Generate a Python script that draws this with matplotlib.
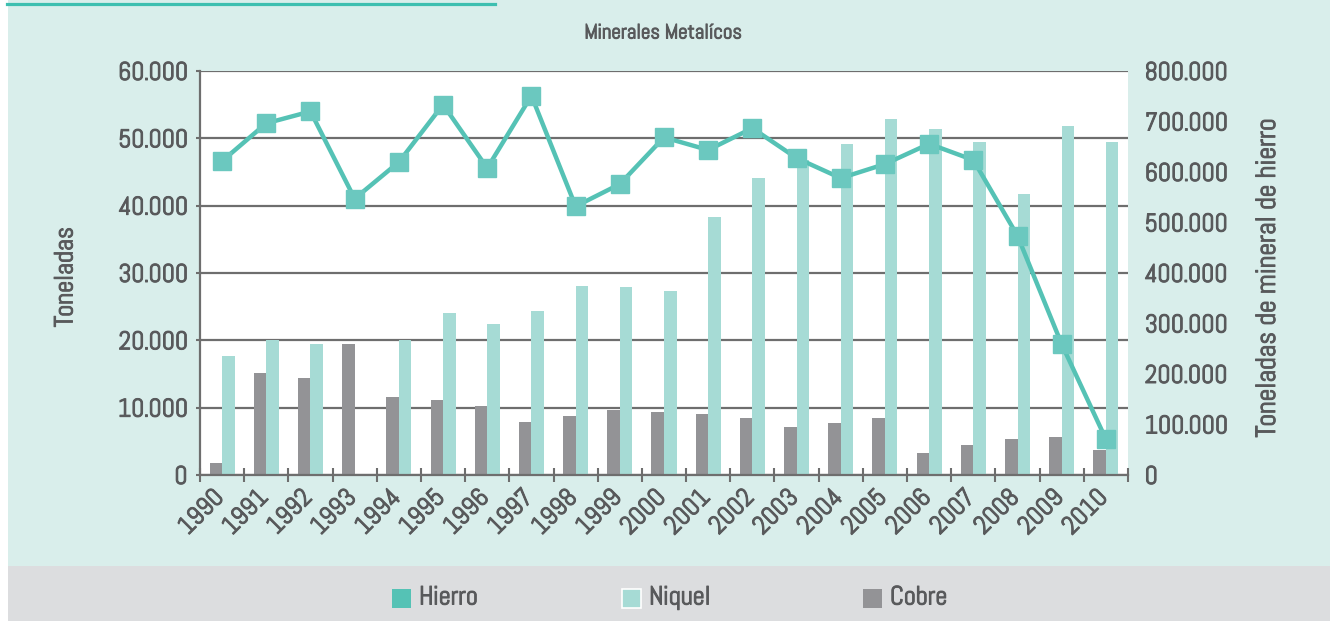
import matplotlib.pyplot as plt
import matplotlib.transforms as mtransforms
import matplotlib.patheffects as pe
from matplotlib.patches import Rectangle
from matplotlib.lines import Line2D
from matplotlib.ticker import FuncFormatter

# --- data ---
years = ["1990", "1991", "1992", "1993", "1994", "1995", "1996", "1997",
         "1998", "1999", "2000", "2001", "2002", "2003", "2004", "2005",
         "2006", "2007", "2008", "2009", "2010"]

cobre = [1800, 15100, 14400, 19500, 11600, 11100, 10200, 7800, 8700, 9600,
         9400, 9100, 8400, 7100, 7700, 8500, 3300, 4500, 5400, 5600, 3700]

niquel = [17700, 20000, 19500, 0, 20100, 24100, 22400, 24400, 28000, 27900,
          27400, 38300, 44100, 46800, 49100, 52900, 51400, 49400, 41700,
          51900, 49500]

hierro = [621700, 696500, 719900, 547200, 619700, 733500, 607700, 751000,
          532000, 576000, 668600, 643600, 686800, 627600, 587900, 615700,
          655800, 623700, 473600, 258900, 71000]

left_ticks = [0, 10000, 20000, 30000, 40000, 50000, 60000]
right_ticks = [0, 100000, 200000, 300000, 400000, 500000, 600000, 700000, 800000]

# colours
C_HIERRO = "#55c2b5"
C_HIERRO_MK = "#6bc8bf"
C_NIQUEL = "#a6dbd5"
C_COBRE = "#939396"
C_BG = "#d9eeeb"
C_BAND = "#dcdddf"
C_GRID = "#6e6e6e"
C_TEXT = "#58595b"

plt.rcParams['font.family'] = ['Abel', 'DejaVu Sans']
bold = [pe.withStroke(linewidth=0.7, foreground=C_TEXT)]

W, H = 1339, 621
fig = plt.figure(figsize=(W / 100, H / 100), dpi=100)


def fx(px):
    return px / W


def fy(py):
    return (H - py) / H


# backgrounds
fig.patches.append(Rectangle((fx(8), fy(566)), fx(1330) - fx(8), 566 / H,
                             transform=fig.transFigure, facecolor=C_BG,
                             edgecolor="none", zorder=-2))
fig.patches.append(Rectangle((fx(8), 0), fx(1330) - fx(8), 55 / H,
                             transform=fig.transFigure, facecolor=C_BAND,
                             edgecolor="none", zorder=-2))
fig.lines.append(Line2D([fx(7), fx(495)], [fy(3.5), fy(3.5)],
                        transform=fig.transFigure, color="#3dbfb0", lw=2.3))

ax = fig.add_axes([fx(200), fy(475), fx(1128) - fx(200), (475 - 71) / H])
ax.set_facecolor("white")

x = list(range(len(years)))
bw = 0.283
ax.bar([i - bw / 2 for i in x], cobre, width=bw, color=C_COBRE, zorder=2)
ax.bar([i + bw / 2 for i in x], niquel, width=bw, color=C_NIQUEL, zorder=2)

ax.set_xlim(-0.5, len(years) - 0.5)
ax.set_ylim(0, 60000)
ax.set_yticks(left_ticks)
fmt = FuncFormatter(lambda v, p: f"{int(v):,}".replace(",", "."))
ax.yaxis.set_major_formatter(fmt)
ax.yaxis.grid(True, color=C_GRID, lw=1.6)
ax.set_axisbelow(True)

for s in ["top", "right"]:
    ax.spines[s].set_visible(False)
for s in ["left", "bottom"]:
    ax.spines[s].set_color(C_GRID)
    ax.spines[s].set_linewidth(1.6)

ax.set_xticks(x)
ax.set_xticklabels(years, rotation=45, ha="right", va="top",
                   rotation_mode="anchor")
ax.set_xticks([i - 0.5 for i in range(len(years) + 1)], minor=True)
ax.tick_params(axis="x", which="major", length=0, pad=8, labelsize=18.5,
               labelcolor=C_TEXT)
ax.tick_params(axis="x", which="minor", length=9.5, width=1.5,
               direction="inout", color=C_GRID)
ax.tick_params(axis="y", length=3, width=1.5, color=C_GRID, pad=6,
               labelsize=18.5, labelcolor=C_TEXT)

# shift the slanted year labels so they end at the category centre
shift = mtransforms.ScaledTranslation(-10 / 100, 0, fig.dpi_scale_trans)
for lab in ax.get_xticklabels():
    lab.set_transform(lab.get_transform() + shift)
    lab.set_path_effects(bold)
for lab in ax.get_yticklabels():
    lab.set_path_effects(bold)

ax2 = ax.twinx()
ax2.plot(x, hierro, color=C_HIERRO, lw=3.2, marker="s", markersize=12.5,
         markerfacecolor=C_HIERRO_MK, markeredgecolor=C_HIERRO_MK, zorder=3)
ax2.set_ylim(0, 800000)
ax2.set_yticks(right_ticks)
ax2.yaxis.set_major_formatter(fmt)
ax2.tick_params(axis="y", length=0, pad=12, labelsize=18.5, labelcolor=C_TEXT)
for lab in ax2.get_yticklabels():
    lab.set_path_effects(bold)
for s in ax2.spines.values():
    s.set_visible(False)

# titles and axis labels
fig.text(fx(663), fy(33), "Minerales Metalícos", ha="center", va="center",
         fontsize=15, color=C_TEXT, path_effects=bold)
fig.text(fx(66), fy(277), "Toneladas", rotation=90, ha="center", va="center",
         fontsize=19, color=C_TEXT, path_effects=bold)
fig.text(fx(1268), fy(279), "Toneladas de mineral de hierro", rotation=90,
         ha="center", va="center", fontsize=20, color=C_TEXT,
         path_effects=bold)

# legend in the grey band
legend_items = [("Hierro", C_HIERRO, 392, "none"),
                ("Niquel", C_NIQUEL, 622, "white"),
                ("Cobre", C_COBRE, 863, "none")]
for label, col, px, edge in legend_items:
    fig.patches.append(Rectangle((fx(px), fy(608)), 19 / W, 19 / H,
                                 transform=fig.transFigure, facecolor=col,
                                 edgecolor=edge, lw=1.2))
    fig.text(fx(px + 27), fy(598), label, ha="left", va="center",
             fontsize=19, color=C_TEXT, path_effects=bold)

fig.savefig("out.png", dpi=100)
